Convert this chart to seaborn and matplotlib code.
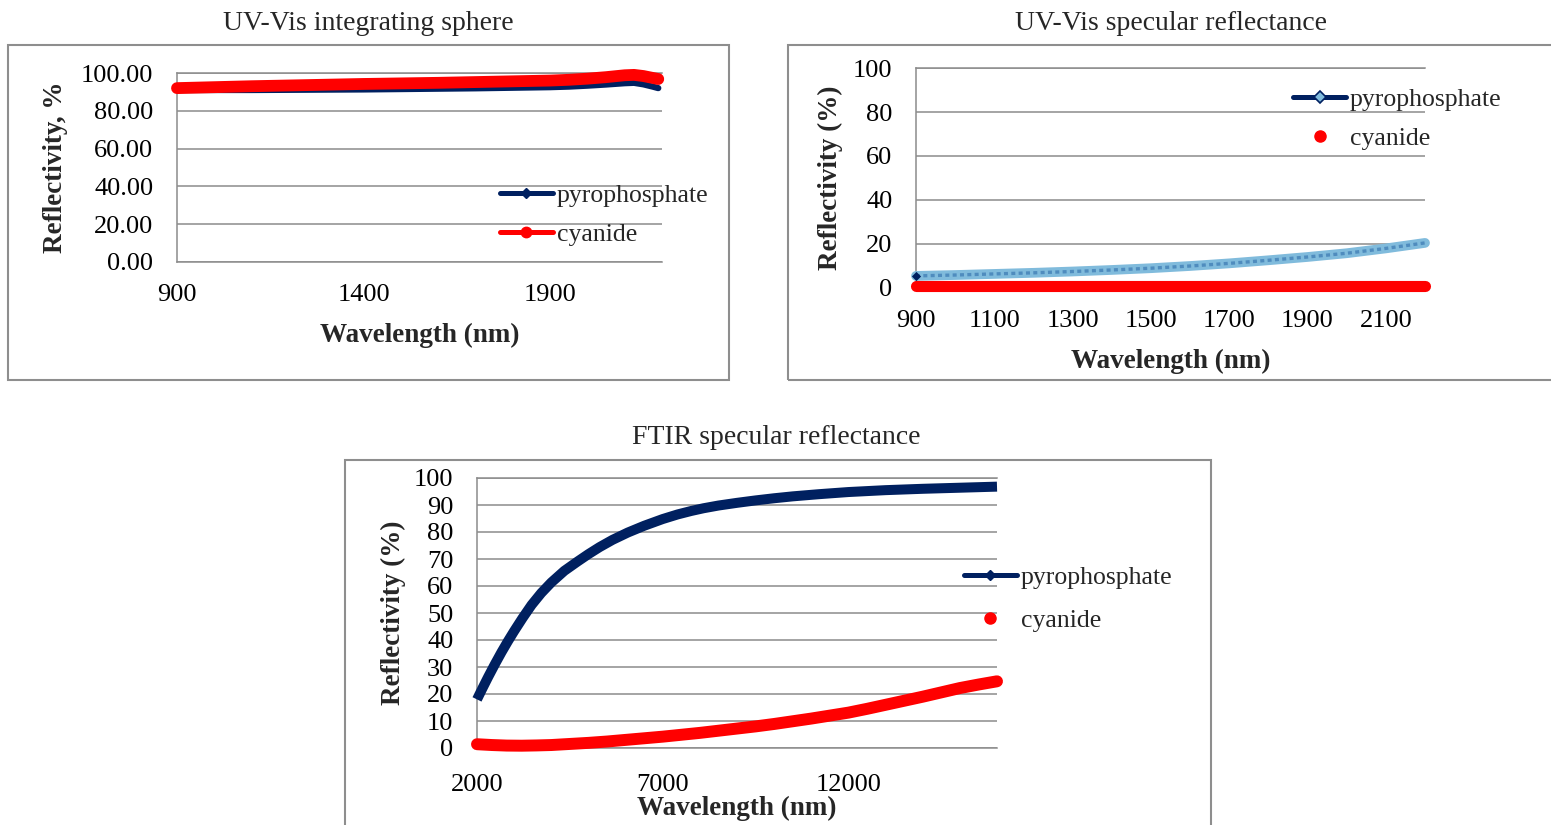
import matplotlib
matplotlib.use("Agg")
import matplotlib.pyplot as plt
import seaborn as sns
from matplotlib.lines import Line2D
from matplotlib.patches import Rectangle
from matplotlib.ticker import FormatStrFormatter

# ---------------- data ----------------
# UV-Vis integrating sphere
sphere_wavelength = [900, 1000, 1100, 1200, 1300, 1400, 1500, 1600, 1700, 1800,
                     1900, 1950, 2000, 2050, 2100, 2125, 2150, 2175, 2190]
sphere_pyrophosphate = [91.0, 91.0, 91.0, 91.1, 91.2, 91.3, 91.5, 91.7, 91.9, 92.2,
                        92.5, 92.8, 93.3, 93.9, 94.6, 94.8, 94.0, 92.8, 92.0]
sphere_cyanide = [92.0, 92.5, 93.0, 93.4, 93.8, 94.2, 94.5, 94.8, 95.2, 95.6,
                  96.0, 96.4, 97.0, 97.8, 98.8, 99.0, 98.4, 97.4, 96.8]

# UV-Vis specular reflectance
spec_wavelength = [900, 1000, 1100, 1200, 1300, 1400, 1500, 1600, 1700, 1800,
                   1900, 2000, 2100, 2200]
spec_pyrophosphate = [5.5, 5.9, 6.4, 6.9, 7.5, 8.2, 9.0, 10.0, 11.2, 12.6,
                      14.1, 15.8, 18.0, 20.5]
spec_cyanide = [1.1, 1.1, 1.1, 1.1, 1.1, 1.1, 1.1, 1.1, 1.1, 1.1,
                1.1, 1.1, 1.1, 1.1]

# FTIR specular reflectance
ftir_pyro_wavelength = [2000, 2150, 2300, 2480, 2660, 2830, 3000, 3230, 3470, 3730,
                        4000, 4350, 4700, 5000, 5300, 5650, 6060, 6500, 7000, 7400,
                        7770, 8100, 8500, 9000, 9500, 10000, 10500, 11200, 12000,
                        13000, 14000, 15000, 16000]
ftir_pyrophosphate = [18.0, 22.2, 26.3, 31.0, 35.5, 39.5, 43.3, 48.2, 53.0, 57.4,
                      61.3, 65.6, 69.0, 71.8, 74.4, 77.1, 79.8, 82.3, 84.8, 86.5,
                      87.8, 88.8, 89.8, 90.8, 91.7, 92.5, 93.2, 94.0, 94.8,
                      95.5, 96.0, 96.4, 96.8]
ftir_cyan_wavelength = [2000, 2400, 2800, 3200, 3600, 4000, 4500, 5000, 5500, 6000,
                        6500, 7000, 7500, 8000, 8500, 9000, 9500, 10000, 10500, 11000,
                        11500, 12000, 12500, 13000, 13500, 14000, 14500, 15000, 15500,
                        16000]
ftir_cyanide = [1.4, 1.1, 0.9, 0.85, 0.95, 1.1, 1.5, 1.9, 2.4, 3.0,
                3.6, 4.2, 4.9, 5.6, 6.4, 7.2, 8.0, 8.9, 9.9, 10.9,
                12.0, 13.1, 14.5, 16.0, 17.5, 19.0, 20.6, 22.2, 23.5,
                24.7]

series_names = ["pyrophosphate", "cyanide"]
panel_titles = ["UV-Vis integrating sphere", "UV-Vis specular reflectance",
                "FTIR specular reflectance"]
x_label = "Wavelength (nm)"
y_labels = ["Reflectivity, %", "Reflectivity (%)", "Reflectivity (%)"]

# ---------------- style ----------------
sns.set_style("white")
plt.rcParams["font.family"] = ["Liberation Serif", "DejaVu Serif"]

NAVY = "#002060"
RED = "#FF0000"
LIGHT_BLUE = "#80BBDC"
MID_BLUE = "#4F8CBE"
GRID = "#8C8C8C"
FRAME = "#8E8E8E"
TICK_FS = 19
LABEL_FS = 19.5
TITLE_FS = 20
LEGEND_FS = 18.5

W, H = 1551, 825
fig = plt.figure(figsize=(W / 100, H / 100), dpi=100)


def px_axes(left, top, right, bottom):
    return fig.add_axes([left / W, 1 - bottom / H, (right - left) / W, (bottom - top) / H])


def px_frame(left, top, right, bottom):
    fig.patches.append(Rectangle((left / W, 1 - bottom / H), (right - left) / W,
                                 (bottom - top) / H, transform=fig.transFigure,
                                 fill=False, edgecolor=FRAME, linewidth=1.5, zorder=0))


def style_axes(ax, xlim, xticks, yticks, yfmt, xlab_y, ylab_x, ylabel):
    ax.set_xlim(*xlim)
    ax.set_ylim(0, 100)
    ax.set_xticks(xticks)
    ax.set_yticks(yticks)
    ax.yaxis.set_major_formatter(FormatStrFormatter(yfmt))
    ax.grid(axis="y", color=GRID, linewidth=1.1)
    ax.grid(axis="x", visible=False)
    ax.set_axisbelow(True)
    ax.spines["right"].set_visible(False)
    for s in ("left", "bottom", "top"):
        ax.spines[s].set_color(GRID)
        ax.spines[s].set_linewidth(1.1)
    ax.tick_params(axis="both", length=0, labelsize=TICK_FS, colors="black")
    ax.tick_params(axis="x", pad=16)
    ax.tick_params(axis="y", pad=17)
    ax.set_xlabel(x_label, fontsize=LABEL_FS, fontweight="bold", va="center")
    ax.xaxis.set_label_coords(0.5, xlab_y)
    ax.set_ylabel(ylabel, fontsize=LABEL_FS, fontweight="bold")
    ax.yaxis.label.set_va("center")
    ax.yaxis.set_label_coords(ylab_x, 0.5)


def legend(ax, handles, x, y, spacing):
    ax.legend(handles=handles, labels=series_names, loc="center left",
              bbox_to_anchor=(x, y), frameon=False, fontsize=LEGEND_FS,
              handlelength=2.05, handletextpad=0.15, labelspacing=spacing,
              borderpad=0, borderaxespad=0)


line_kw = dict(clip_on=False, legend=False, zorder=3)

# ---------------- panel 1 : integrating sphere ----------------
px_frame(8, 45, 729, 380)
ax1 = px_axes(177, 73, 662, 262)
sns.lineplot(x=sphere_wavelength, y=sphere_pyrophosphate, ax=ax1, color=NAVY,
             linewidth=4.5, solid_capstyle="round", **line_kw)
sns.lineplot(x=sphere_wavelength, y=sphere_cyanide, ax=ax1, color=RED,
             linewidth=8.5, solid_capstyle="round", **line_kw)
style_axes(ax1, (900, 2200), [900, 1400, 1900], range(0, 101, 20), "%.2f",
           -0.386, -0.2495, y_labels[0])
legend(ax1, [Line2D([], [], color=NAVY, lw=3.6, marker="D", ms=5.5),
             Line2D([], [], color=RED, lw=3.6, marker="o", ms=7.5)],
       0.666, 0.251, 0.62)
fig.text(368.5 / W, 1 - 23 / H, panel_titles[0], ha="center", va="center", fontsize=TITLE_FS)

# ---------------- panel 2 : UV-Vis specular ----------------
px_frame(788, 45, 1560, 380)
ax2 = px_axes(916, 68, 1425, 288)
sns.lineplot(x=spec_wavelength, y=spec_pyrophosphate, ax=ax2, color=LIGHT_BLUE,
             linewidth=7.0, solid_capstyle="round", **line_kw)
sns.lineplot(x=spec_wavelength, y=spec_pyrophosphate, ax=ax2, color=MID_BLUE,
             linewidth=2.4, dashes=(1.2, 1.0), **line_kw)
sns.lineplot(x=spec_wavelength, y=spec_cyanide, ax=ax2, color=RED,
             linewidth=8.0, solid_capstyle="round", **line_kw)
sns.scatterplot(x=spec_wavelength[:1], y=spec_pyrophosphate[:1], ax=ax2, color=NAVY,
                marker="D", s=22, linewidth=0, clip_on=False, zorder=5, legend=False)
style_axes(ax2, (900, 2200), range(900, 2101, 200), range(0, 101, 20), "%d",
           -0.332, -0.169, y_labels[1])
legend(ax2, [Line2D([], [], color=NAVY, lw=3.6, marker="D", ms=6.5,
                    markerfacecolor=LIGHT_BLUE, markeredgecolor=NAVY, markeredgewidth=1.2),
             Line2D([], [], color=RED, lw=0, marker="o", ms=8)],
       0.741, 0.768, 0.62)
fig.text(1171 / W, 1 - 23 / H, panel_titles[1], ha="center", va="center", fontsize=TITLE_FS)

# ---------------- panel 3 : FTIR specular ----------------
px_frame(345, 460, 1211, 840)
ax3 = px_axes(477, 478, 997, 748)
sns.lineplot(x=ftir_pyro_wavelength, y=ftir_pyrophosphate, ax=ax3, color=NAVY,
             linewidth=7.2, solid_capstyle="butt", **line_kw)
sns.lineplot(x=ftir_cyan_wavelength, y=ftir_cyanide, ax=ax3, color=RED,
             linewidth=8.6, solid_capstyle="round", **line_kw)
style_axes(ax3, (2000, 16000), [2000, 7000, 12000], range(0, 101, 10), "%d",
           -0.222, -0.1615, y_labels[2])
ax3.tick_params(axis="x", pad=19)
legend(ax3, [Line2D([], [], color=NAVY, lw=3.6, marker="D", ms=5.5),
             Line2D([], [], color=RED, lw=0, marker="o", ms=8)],
       0.9365, 0.552, 0.75)
fig.text(776 / W, 1 - 438 / H, panel_titles[2], ha="center", va="center", fontsize=TITLE_FS)

fig.savefig("out.png", dpi=100)
